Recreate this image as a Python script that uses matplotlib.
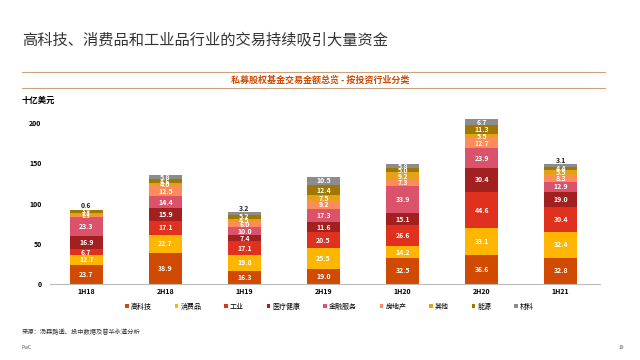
import numpy as np
import matplotlib.pyplot as plt

plt.rcParams['font.family'] = ['Noto Sans CJK SC', 'DejaVu Sans']

periods = ["1H18", "2H18", "1H19", "2H19", "1H20", "2H20", "1H21"]
sectors = ["高科技", "消费品", "工业", "医疗健康", "金融服务", "房地产", "其他", "能源", "材料"]

tech = [23.7, 38.9, 16.3, 19.0, 32.5, 36.6, 32.8]
consumer = [12.7, 22.7, 19.8, 25.5, 14.2, 33.1, 32.4]
industrial = [6.7, 17.1, 17.1, 20.5, 26.6, 44.6, 30.4]
health = [16.9, 15.9, 7.4, 11.6, 15.1, 30.4, 19.0]
finance = [23.3, 14.4, 10.0, 17.3, 33.9, 23.9, 12.9]
realestate = [1.3, 12.5, 6.0, 9.2, 7.3, 12.7, 8.3]
other = [3.3, 4.0, 4.5, 7.5, 9.2, 5.5, 5.5]
energy = [3.9, 4.6, 5.2, 12.4, 5.0, 11.3, 4.4]
materials = [0.6, 5.8, 3.2, 10.5, 5.8, 6.7, 3.1]

series = [tech, consumer, industrial, health, finance, realestate, other, energy, materials]
colors = ["#d04a02", "#ffb600", "#e0301e", "#a32020", "#db536a",
          "#fd8c5a", "#e3a21a", "#a07800", "#8c8c8c"]

fig = plt.figure(figsize=(6.4, 3.6), dpi=100)
ax = fig.add_axes([0.078, 0.211, 0.86, 0.469])

x = np.arange(len(periods))
bottom = np.zeros(len(periods))
for name, vals, col in zip(sectors, series, colors):
    vals = np.array(vals)
    ax.bar(x, vals, 0.42, bottom=bottom, color=col, label=name, clip_on=False)
    for xi, b, v in zip(x, bottom, vals):
        if name == "材料" and v < 4:
            ax.text(xi, b + v + 0.5, f"{v:.1f}", ha="center", va="bottom",
                    fontsize=5, fontweight="bold", color="#222222")
        else:
            # tiny segments get a smaller label so the stack stays readable
            fs = 5 if v >= 4 else 4.2
            ax.text(xi, b + v / 2, f"{v:.1f}", ha="center", va="center",
                    fontsize=fs, fontweight="bold", color="white")
    bottom += vals

ax.set_xlim(-0.46, 6.5)
ax.set_ylim(0, 210)
ax.set_yticks([0, 50, 100, 150, 200])
ax.set_xticks(x)
ax.set_xticklabels(periods)
for s in ["top", "right", "left"]:
    ax.spines[s].set_visible(False)
ax.spines["bottom"].set_color("#bbbbbb")
ax.tick_params(axis="x", length=0, labelsize=5, pad=3)
ax.tick_params(axis="y", length=0, labelsize=5, pad=6)
for t in ax.get_xticklabels() + ax.get_yticklabels():
    t.set_fontweight("bold")

ax.legend(loc="center", bbox_to_anchor=(0.515, 0.148), bbox_transform=fig.transFigure,
          ncol=9, frameon=False, fontsize=5, handlelength=0.5, handleheight=0.5,
          handletextpad=0.3, columnspacing=3.3)

fig.text(0.034, 0.89, "高科技、消费品和工业品行业的交易持续吸引大量资金",
         fontsize=11, color="#333333", va="center")
fig.add_artist(plt.Line2D([0.034, 0.945], [0.80, 0.80], color="#c9a27e", lw=0.8))
fig.add_artist(plt.Line2D([0.034, 0.945], [0.755, 0.755], color="#c9a27e", lw=0.8))
fig.text(0.5, 0.778, "私募股权基金交易金额总览 - 按投资行业分类", fontsize=6.5,
         color="#d04a02", fontweight="bold", ha="center", va="center")
fig.text(0.034, 0.72, "十亿美元", fontsize=6, fontweight="bold", va="center")
fig.text(0.034, 0.078, "来源：汤森路透、投中数据及普华永道分析", fontsize=4.5,
         color="#333333", va="center")
fig.text(0.034, 0.036, "PwC", fontsize=3.5, color="#555555", va="center")
fig.text(0.975, 0.036, "19", fontsize=3.5, color="#555555", va="center", ha="right")

fig.savefig("out.png", dpi=100)
